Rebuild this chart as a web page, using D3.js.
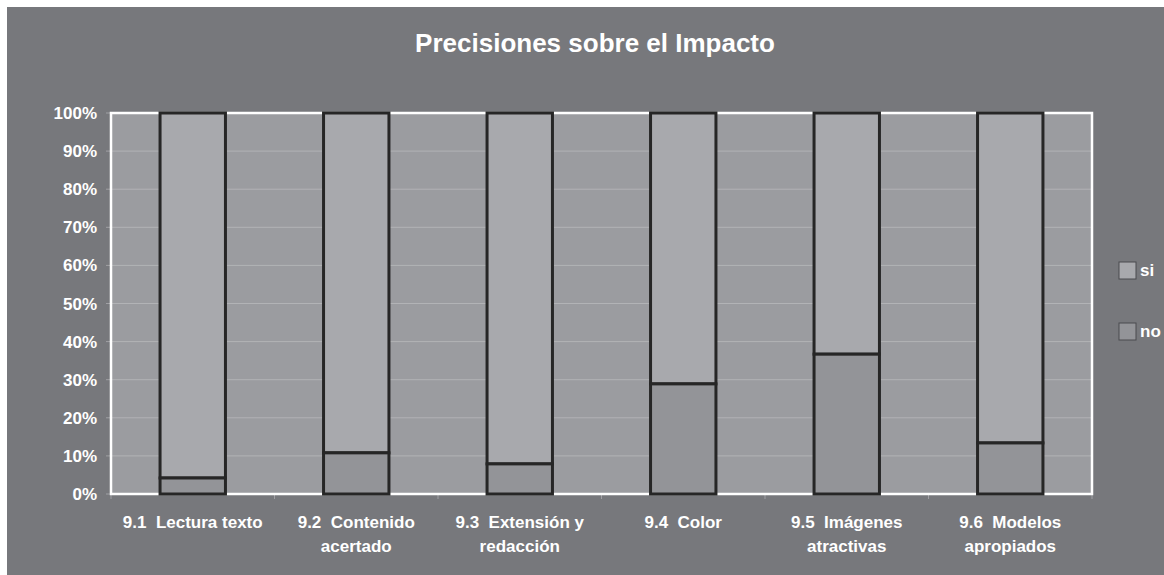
<!DOCTYPE html>
<html>
<head>
<meta charset="utf-8">
<style>
  body { margin: 0; background: #ffffff; }
  svg text { font-family: "Liberation Sans", Arial, sans-serif; font-weight: bold; fill: #ffffff; white-space: pre; }
</style>
</head>
<body>
<svg id="chart" width="1164" height="575"></svg>
<script src="https://cdn.jsdelivr.net/npm/d3@7"></script>
<script>
// data
var categories = [
  ["9.1  Lectura texto"],
  ["9.2  Contenido", "acertado"],
  ["9.3  Extensión y", "redacción"],
  ["9.4  Color"],
  ["9.5  Imágenes", "atractivas"],
  ["9.6  Modelos", "apropiados"]
];
var noValues = [4.2, 10.8, 7.9, 28.9, 36.7, 13.4];
var siValues = [95.8, 89.2, 92.1, 71.1, 63.3, 86.6];
var yTicks = [0, 10, 20, 30, 40, 50, 60, 70, 80, 90, 100];
var seriesNames = ["si", "no"];

var svg = d3.select("#chart");

// grey chart background
svg.append("rect")
  .attr("x", 7).attr("y", 7)
  .attr("width", 1157).attr("height", 568)
  .attr("fill", "#77787c");

svg.append("text")
  .attr("x", 595).attr("y", 52)
  .attr("text-anchor", "middle")
  .style("font-size", "26px")
  .text("Precisiones sobre el Impacto");

var plotL = 111, plotR = 1092, plotT = 113, plotB = 494;

var x = d3.scaleBand()
  .domain(d3.range(categories.length))
  .range([plotL, plotR])
  .paddingInner(0).paddingOuter(0);

var y = d3.scaleLinear().domain([0, 100]).range([plotB, plotT]);

// plot area
svg.append("rect")
  .attr("x", plotL).attr("y", plotT)
  .attr("width", plotR - plotL).attr("height", plotB - plotT)
  .attr("fill", "#9b9ca0");

// gridlines
svg.selectAll("line.grid")
  .data(yTicks.slice(1, -1)).enter()
  .append("line")
  .attr("class", "grid")
  .attr("x1", plotL).attr("x2", plotR)
  .attr("y1", function(d) { return y(d); })
  .attr("y2", function(d) { return y(d); })
  .attr("stroke", "#b2b3b6").attr("stroke-width", 1);

// y tick marks + labels
svg.selectAll("line.ytick")
  .data(yTicks).enter()
  .append("line")
  .attr("class", "ytick")
  .attr("x1", plotL - 5).attr("x2", plotL)
  .attr("y1", function(d) { return y(d); })
  .attr("y2", function(d) { return y(d); })
  .attr("stroke", "#a0a0a4");

svg.selectAll("text.ylab")
  .data(yTicks).enter()
  .append("text")
  .attr("class", "ylab")
  .attr("x", 97)
  .attr("y", function(d) { return y(d) + 6; })
  .attr("text-anchor", "end")
  .style("font-size", "17px")
  .text(function(d) { return d + "%"; });

// x tick marks at band edges
svg.selectAll("line.xtick")
  .data(d3.range(categories.length + 1)).enter()
  .append("line")
  .attr("class", "xtick")
  .attr("x1", function(i) { return plotL + i * x.step(); })
  .attr("x2", function(i) { return plotL + i * x.step(); })
  .attr("y1", plotB).attr("y2", plotB + 5)
  .attr("stroke", "#a0a0a4");

// white frame around plot area
svg.append("rect")
  .attr("x", plotL).attr("y", plotT)
  .attr("width", plotR - plotL).attr("height", plotB - plotT)
  .attr("fill", "none")
  .attr("stroke", "#ffffff").attr("stroke-width", 2.5);

var barW = x.bandwidth() * 0.4;
function barX(i) { return x(i) + (x.bandwidth() - barW) / 2; }

// "si" stacked on top
svg.selectAll("rect.si")
  .data(siValues).enter()
  .append("rect")
  .attr("class", "si")
  .attr("x", function(d, i) { return barX(i); })
  .attr("y", function(d, i) { return y(noValues[i] + d); })
  .attr("width", barW)
  .attr("height", function(d, i) { return y(noValues[i]) - y(noValues[i] + d); })
  .attr("fill", "#a8a9ad")
  .attr("stroke", "#262626").attr("stroke-width", 3);

// "no" at the bottom
svg.selectAll("rect.no")
  .data(noValues).enter()
  .append("rect")
  .attr("class", "no")
  .attr("x", function(d, i) { return barX(i); })
  .attr("y", function(d) { return y(d); })
  .attr("width", barW)
  .attr("height", function(d) { return y(0) - y(d); })
  .attr("fill", "#939498")
  .attr("stroke", "#262626").attr("stroke-width", 3);

// category labels
categories.forEach(function(lines, i) {
  var t = svg.append("text")
    .attr("x", x(i) + x.bandwidth() / 2)
    .attr("y", 528)
    .attr("text-anchor", "middle")
    .style("font-size", "17px");
  lines.forEach(function(l, k) {
    t.append("tspan")
      .attr("x", x(i) + x.bandwidth() / 2)
      .attr("dy", k === 0 ? 0 : 24)
      .text(l);
  });
});

// legend
var legendFill = { si: "#a8a9ad", no: "#939498" };
var legend = svg.selectAll("g.legend")
  .data(seriesNames).enter()
  .append("g")
  .attr("class", "legend")
  .attr("transform", function(d, i) { return "translate(1119," + (262 + i * 61) + ")"; });

legend.append("rect")
  .attr("width", 17).attr("height", 17)
  .attr("fill", function(d) { return legendFill[d]; })
  .attr("stroke", "#4a4a4e").attr("stroke-width", 1);

legend.append("text")
  .attr("x", 21).attr("y", 14)
  .style("font-size", "17px")
  .text(function(d) { return d; });
</script>
</body>
</html>
